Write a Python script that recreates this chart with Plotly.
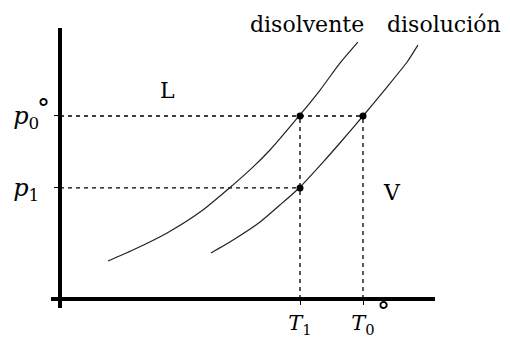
import plotly.graph_objects as go

# Data (arbitrary units)
T1 = 8.0
T0 = 10.1
p1 = 6.17
p0 = 10.17

solvent_T = [1.6, 2.43, 3.57, 4.67, 5.57, 6.43, 7.0, 7.97, 8.67, 9.33, 9.93]
solvent_p = [2.11, 2.72, 3.67, 4.83, 6.06, 7.33, 8.28, 10.17, 11.61, 13.11, 14.28]

solution_T = [5.03, 5.77, 6.67, 7.33, 7.97, 8.77, 9.33, 10.1, 10.9, 11.57, 11.93]
solution_p = [2.56, 3.28, 4.28, 5.22, 6.17, 7.61, 8.67, 10.17, 11.78, 13.17, 14.11]

x_tickvals = [T1, T0]
x_ticktext = ["<i>T</i><sub>1</sub>", "<i>T</i><sub>0</sub>"]
y_tickvals = [p1, p0]
y_ticktext = ["<i>p</i><sub>1</sub>", "<i>p</i><sub>0</sub>"]

FONT = "DejaVu Serif"
FS = 22
TFS = 24

fig = go.Figure()

dash = "4px,4px"
guide = dict(color="black", width=1.3, dash=dash)
fig.add_trace(go.Scatter(x=[0, T0], y=[p0, p0], mode="lines", line=guide, hoverinfo="skip"))
fig.add_trace(go.Scatter(x=[0, T1], y=[p1, p1], mode="lines", line=guide, hoverinfo="skip"))
fig.add_trace(go.Scatter(x=[T1, T1], y=[0, p0], mode="lines", line=guide, hoverinfo="skip"))
fig.add_trace(go.Scatter(x=[T0, T0], y=[0, p0], mode="lines", line=guide, hoverinfo="skip"))

curve = dict(color="#222222", width=1.2, shape="spline", smoothing=0.6)
fig.add_trace(go.Scatter(x=solvent_T, y=solvent_p, mode="lines", line=curve, name="disolvente"))
fig.add_trace(go.Scatter(x=solution_T, y=solution_p, mode="lines", line=curve, name="disolución"))

fig.add_trace(go.Scatter(x=[T1, T1, T0], y=[p0, p1, p0], mode="markers",
                         marker=dict(color="black", size=7)))

ann_font = dict(family=FONT, size=FS, color="black")
deg_font = dict(family=FONT, size=26, color="black")
annotations = [
    dict(x=(307 - 51) / 384, y=(308 - 24) / 280, xref="paper", yref="paper", text="disolvente",
         showarrow=False, font=ann_font, xanchor="center", yanchor="middle"),
    dict(x=(444 - 51) / 384, y=(308 - 24) / 280, xref="paper", yref="paper", text="disolución",
         showarrow=False, font=ann_font, xanchor="center", yanchor="middle"),
    dict(x=3.57, y=11.6, xref="x", yref="y", text="L", showarrow=False,
         font=ann_font, xanchor="center", yanchor="middle"),
    dict(x=11.07, y=5.9, xref="x", yref="y", text="V", showarrow=False,
         font=ann_font, xanchor="center", yanchor="middle"),
    # degree signs stacked over the subscript 0
    dict(x=0, y=p0, xref="x", yref="y", text="°", showarrow=False,
         font=deg_font, xshift=-17, yshift=8),
    dict(x=T0, y=0, xref="x", yref="y", text="°", showarrow=False,
         font=deg_font, xshift=20, yshift=-12),
]

# the page body has an 8px margin, so the figure is 8px smaller and offsets shrink by 8
fig.update_layout(
    width=502, height=333,
    margin=dict(l=43, r=75, t=20, b=33, pad=0),
    plot_bgcolor="white", paper_bgcolor="white",
    showlegend=False,
    annotations=annotations,
    font=dict(family=FONT, size=FS, color="black"),
    xaxis=dict(range=[-0.3, 12.5], anchor="free", position=9 / 280,
               showline=True, linecolor="black", linewidth=4,
               showgrid=False, zeroline=False,
               tickmode="array", tickvals=x_tickvals, ticktext=x_ticktext,
               ticks="outside", ticklen=4, tickwidth=1.3, tickcolor="black",
               ticklabelstandoff=0,
               tickfont=dict(family=FONT, size=21, color="black"), automargin=False),
    yaxis=dict(range=[-0.5, 15.06], anchor="free", position=9 / 384,
               showline=True, linecolor="black", linewidth=4,
               showgrid=False, zeroline=False,
               tickmode="array", tickvals=y_tickvals, ticktext=y_ticktext,
               ticks="outside", ticklen=4, tickwidth=1.3, tickcolor="black",
               ticklabelstandoff=10,
               tickfont=dict(family=FONT, size=TFS, color="black"), automargin=False),
)

fig.write_html("out.html")
